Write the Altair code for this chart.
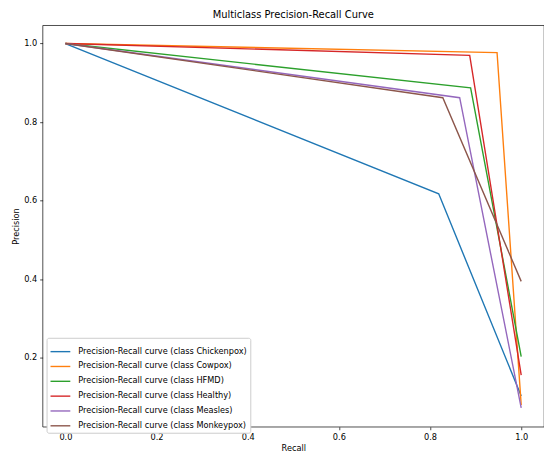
import altair as alt
import pandas as pd

classes = ["Chickenpox", "Cowpox", "HFMD", "Healthy", "Measles", "Monkeypox"]
colors = ["#1f77b4", "#ff7f0e", "#2ca02c", "#d62728", "#9467bd", "#8c564b"]
# each curve: (recall, precision) at recall 0, knee and 1
recall_start = [0.0, 0.0, 0.0, 0.0, 0.0, 0.0]
precision_start = [1.0, 1.0, 1.0, 1.0, 1.0, 1.0]
recall_knee = [0.819, 0.947, 0.889, 0.887, 0.865, 0.828]
precision_knee = [0.617, 0.977, 0.887, 0.970, 0.862, 0.862]
recall_end = [1.0, 1.0, 1.0, 1.0, 1.0, 1.0]
precision_end = [0.102, 0.079, 0.2025, 0.155, 0.072, 0.394]

rows = []
for i, c in enumerate(classes):
    label = f"Precision-Recall curve (class {c})"
    rows.append({"series": label, "recall": recall_start[i], "precision": precision_start[i], "o": 0})
    rows.append({"series": label, "recall": recall_knee[i], "precision": precision_knee[i], "o": 1})
    rows.append({"series": label, "recall": recall_end[i], "precision": precision_end[i], "o": 2})
df = pd.DataFrame(rows)
labels = [f"Precision-Recall curve (class {c})" for c in classes]

FONT = "DejaVu Sans"

chart = alt.Chart(df).mark_line(strokeWidth=1.4).encode(
    x=alt.X("recall:Q", title="Recall",
            scale=alt.Scale(domain=[-0.05, 1.05], nice=False, zero=False),
            axis=alt.Axis(values=[0, 0.2, 0.4, 0.6, 0.8, 1.0], format=".1f")),
    y=alt.Y("precision:Q", title="Precision",
            scale=alt.Scale(domain=[0.0235, 1.0465], nice=False, zero=False),
            axis=alt.Axis(values=[0.2, 0.4, 0.6, 0.8, 1.0], format=".1f")),
    color=alt.Color("series:N", sort=labels,
                    scale=alt.Scale(domain=labels, range=colors),
                    legend=alt.Legend(title=None, orient="none", legendX=4, legendY=316,
                                      symbolType="stroke", symbolSize=400,
                                      symbolStrokeWidth=1.4, labelFontSize=8.3,
                                      labelFont=FONT, labelColor="#000",
                                      labelOffset=7, padding=3, rowPadding=-1.9,
                                      strokeColor="#cccccc", fillColor="white",
                                      cornerRadius=2, labelLimit=400)),
    order="o:Q",
).properties(
    width=507, height=406,
    autosize=alt.AutoSizeParams(type="none"),
    padding={"left": 35, "top": 15, "right": 0, "bottom": 23},
    title=alt.Title("Multiclass Precision-Recall Curve", fontSize=10, font=FONT,
                    fontWeight="normal", color="#000", offset=5, anchor="middle"),
).configure_view(
    stroke="#000", strokeWidth=0.7
).configure_axis(
    grid=False, domain=False, tickColor="#000", tickWidth=0.7, tickSize=3,
    labelFont=FONT, labelFontSize=8.3, labelColor="#000", labelPadding=3,
    titleFont=FONT, titleFontSize=8.3, titleFontWeight="normal", titleColor="#000",
    titlePadding=3,
)

chart.save("out.html", embed_options={"renderer": "svg", "actions": False})
